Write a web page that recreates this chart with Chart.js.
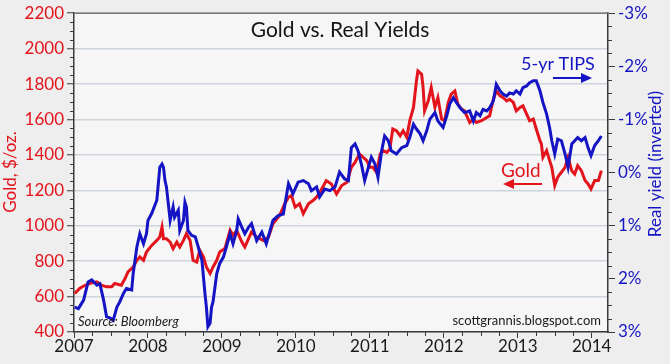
<!DOCTYPE html>
<html>
<head>
<meta charset="utf-8">
<script src="https://cdn.jsdelivr.net/npm/chart.js@4.4.1/dist/chart.umd.min.js"></script>
<style>
html, body { margin: 0; padding: 0; background: #eeeeee; }
#wrap { width: 670px; height: 364px; position: relative; }
</style>
</head>
<body>
<div id="wrap"><canvas id="chart"></canvas></div>
<script>
'use strict';

// Gold, $/oz. (left axis), dates as decimal years
const goldDates = [
    2007.01, 2007.08, 2007.15, 2007.22, 2007.31, 2007.37, 2007.44, 2007.51, 2007.55, 2007.64, 2007.69, 2007.73, 2007.80, 2007.85, 2007.89, 2007.94, 2007.98,
    2008.05, 2008.12, 2008.16, 2008.19, 2008.21, 2008.25, 2008.30, 2008.34, 2008.39, 2008.43, 2008.48, 2008.52, 2008.57, 2008.61, 2008.66, 2008.70, 2008.75, 2008.79, 2008.84, 2008.88, 2008.93, 2008.97,
    2009.04, 2009.11, 2009.15, 2009.20, 2009.27, 2009.31, 2009.36, 2009.40, 2009.47, 2009.56, 2009.63, 2009.69, 2009.78, 2009.85, 2009.90, 2009.94, 2009.99,
    2010.05, 2010.10, 2010.17, 2010.23, 2010.28, 2010.35, 2010.41, 2010.48, 2010.55, 2010.62, 2010.69, 2010.75, 2010.80, 2010.86, 2010.91, 2010.96,
    2011.00, 2011.04, 2011.09, 2011.14, 2011.18, 2011.23, 2011.27, 2011.31, 2011.36, 2011.41, 2011.45, 2011.50, 2011.54, 2011.59, 2011.63, 2011.65, 2011.70, 2011.72, 2011.74, 2011.79, 2011.83, 2011.88, 2011.92, 2011.97,
    2012.01, 2012.06, 2012.10, 2012.15, 2012.19, 2012.24, 2012.28, 2012.35, 2012.40, 2012.44, 2012.51, 2012.58, 2012.62, 2012.67, 2012.71, 2012.76, 2012.80, 2012.85, 2012.89, 2012.94, 2012.98,
    2013.03, 2013.07, 2013.12, 2013.16, 2013.21, 2013.25, 2013.30, 2013.32, 2013.34, 2013.39, 2013.41, 2013.46, 2013.50, 2013.54, 2013.59, 2013.64, 2013.68, 2013.73, 2013.77, 2013.81, 2013.86, 2013.91, 2013.95, 2013.99,
    2014.04, 2014.09, 2014.13
];
const goldValues = [
    618, 647, 664, 675, 683, 664, 655, 655, 674, 664, 702, 739, 767, 805, 824, 805, 852,
    889, 917, 936, 992, 927, 927, 908, 871, 908, 880, 917, 955, 917, 805, 795, 861, 824, 767, 730, 767, 805, 852,
    871, 974, 946, 974, 908, 880, 927, 964, 936, 917, 936, 1011, 1058, 1124, 1161, 1171, 1105,
    1124, 1068, 1124, 1142, 1161, 1208, 1255, 1236, 1180, 1227, 1245, 1330, 1358, 1405, 1386, 1367,
    1330, 1330, 1302, 1405, 1424, 1414, 1433, 1546, 1536, 1508, 1536, 1499, 1593, 1668, 1817, 1874, 1855, 1780, 1649, 1705, 1780, 1668, 1724, 1602,
    1593, 1696, 1743, 1761, 1686, 1658, 1649, 1583, 1602, 1583, 1593, 1611, 1621, 1714, 1761, 1733, 1724, 1705, 1714, 1696, 1649,
    1668, 1677, 1630, 1593, 1602, 1546, 1480, 1461, 1386, 1424, 1396, 1330, 1227, 1274, 1302, 1330, 1386, 1311, 1292, 1339, 1311, 1255, 1236, 1208,
    1255, 1255, 1311
];

// 5-yr TIPS real yield, % (right axis, inverted)
const tipsDates = [
    2007.01, 2007.06, 2007.13, 2007.19, 2007.24, 2007.31, 2007.35, 2007.40, 2007.44, 2007.49, 2007.53, 2007.58, 2007.62, 2007.67, 2007.71, 2007.78, 2007.80, 2007.85, 2007.89, 2007.94, 2007.98,
    2008.00, 2008.05, 2008.12, 2008.14, 2008.16, 2008.19, 2008.21, 2008.23, 2008.25, 2008.30, 2008.34, 2008.36, 2008.41, 2008.43, 2008.48, 2008.50, 2008.52, 2008.54, 2008.59, 2008.64, 2008.68, 2008.73, 2008.77, 2008.79, 2008.81, 2008.84, 2008.86, 2008.88, 2008.93, 2008.97,
    2009.02, 2009.06, 2009.11, 2009.15, 2009.20, 2009.22, 2009.27, 2009.31, 2009.36, 2009.40, 2009.47, 2009.54, 2009.60, 2009.69, 2009.76, 2009.83, 2009.90, 2009.96,
    2010.03, 2010.10, 2010.17, 2010.21, 2010.28, 2010.32, 2010.39, 2010.46, 2010.53, 2010.59, 2010.66, 2010.71, 2010.75, 2010.80, 2010.84, 2010.89, 2010.93, 2010.98,
    2011.02, 2011.07, 2011.11, 2011.16, 2011.20, 2011.25, 2011.29, 2011.36, 2011.43, 2011.50, 2011.54, 2011.59, 2011.63, 2011.68, 2011.72, 2011.77, 2011.81, 2011.88, 2011.92, 2011.99,
    2012.04, 2012.08, 2012.13, 2012.17, 2012.22, 2012.28, 2012.35, 2012.40, 2012.44, 2012.49, 2012.53, 2012.58, 2012.62, 2012.67, 2012.71, 2012.76, 2012.80, 2012.85, 2012.89, 2012.94, 2012.98,
    2013.03, 2013.07, 2013.12, 2013.16, 2013.21, 2013.25, 2013.30, 2013.34, 2013.39, 2013.43, 2013.46, 2013.50, 2013.54, 2013.59, 2013.64, 2013.68, 2013.73, 2013.77, 2013.81, 2013.86, 2013.91, 2013.95, 2013.99,
    2014.04, 2014.09, 2014.13
];
const tipsValues = [
    2.53, 2.56, 2.40, 2.06, 2.02, 2.12, 2.09, 2.40, 2.71, 2.74, 2.78, 2.53, 2.43, 2.27, 2.18, 2.21, 1.90, 1.40, 1.15, 1.34, 1.15,
    0.90, 0.77, 0.52, 0.21, -0.10, -0.16, -0.10, 0.15, 0.27, 0.90, 0.65, 0.84, 0.71, 1.09, 0.90, 0.56, 0.65, 1.09, 1.18, 1.21, 1.40, 1.65, 2.27, 2.53, 2.90, 2.83, 2.53, 2.43, 1.90, 1.71,
    1.59, 1.40, 1.15, 1.34, 1.09, 0.87, 1.03, 1.15, 1.03, 0.96, 1.28, 1.12, 1.34, 0.90, 0.81, 0.78, 0.21, 0.40,
    0.18, 0.15, 0.21, 0.34, 0.27, 0.46, 0.31, 0.34, 0.27, -0.01, 0.12, 0.15, -0.47, -0.54, -0.41, -0.13, 0.15, -0.10,
    -0.29, -0.16, 0.09, -0.41, -0.69, -0.60, -0.41, -0.35, -0.47, -0.51, -0.66, -0.91, -0.82, -0.73, -0.60, -0.79, -1.00, -1.13, -0.97, -0.85,
    -1.07, -1.29, -1.41, -1.32, -1.22, -1.13, -1.16, -0.97, -1.13, -1.07, -1.19, -1.16, -1.22, -1.35, -1.66, -1.54, -1.48, -1.44, -1.50, -1.48, -1.54,
    -1.48, -1.60, -1.63, -1.69, -1.73, -1.73, -1.54, -1.32, -1.10, -0.85, -0.60, -0.35, -0.63, -0.60, -0.35, -0.10, -0.54, -0.60, -0.66, -0.60, -0.66, -0.47, -0.32,
    -0.51, -0.60, -0.69
];

const yearTicks = [2007, 2008, 2009, 2010, 2011, 2012, 2013, 2014];
const goldTicks = [400, 600, 800, 1000, 1200, 1400, 1600, 1800, 2000, 2200];
const yieldTicks = [-3, -2, -1, 0, 1, 2, 3];

const RED = '#e3141c';
const BLUE = '#1414c4';
const AXIS = '#3a3a3a';
const FONT = 'Lato, "Open Sans", sans-serif';

function pairs(xs, ys) {
    return xs.map((x, i) => ({ x: x, y: ys[i] }));
}

function arrow(ctx, x1, x2, y, color) {
    const dir = x2 > x1 ? 1 : -1;
    ctx.strokeStyle = color;
    ctx.fillStyle = color;
    ctx.lineWidth = 2;
    ctx.beginPath();
    ctx.moveTo(x1, y);
    ctx.lineTo(x2 - dir * 8, y);
    ctx.stroke();
    ctx.beginPath();
    ctx.moveTo(x2, y);
    ctx.lineTo(x2 - dir * 11, y - 5);
    ctx.lineTo(x2 - dir * 11, y + 5);
    ctx.closePath();
    ctx.fill();
}

const decor = {
    id: 'decor',
    beforeDraw(chart) {
        const ctx = chart.ctx;
        const a = chart.chartArea;
        ctx.save();
        ctx.fillStyle = '#eeeeee';
        ctx.fillRect(0, 0, chart.width, chart.height);
        ctx.fillStyle = '#f6f6f6';
        ctx.fillRect(a.left, a.top, a.right - a.left, a.bottom - a.top);
        ctx.restore();
    },
    afterDraw(chart) {
        const ctx = chart.ctx;
        const a = chart.chartArea;
        const sx = chart.scales.x, sy = chart.scales.y, sy2 = chart.scales.y2;
        ctx.save();

        // top frame line
        ctx.strokeStyle = '#777';
        ctx.lineWidth = 1.5;
        ctx.beginPath();
        ctx.moveTo(a.left, a.top);
        ctx.lineTo(a.right, a.top);
        ctx.stroke();

        // minor ticks
        ctx.strokeStyle = AXIS;
        ctx.lineWidth = 1;
        ctx.beginPath();
        for (let v = 450; v < 2200; v += 50) {
            if (v % 200 === 0) continue;
            const y = Math.round(sy.getPixelForValue(v)) + 0.5;
            ctx.moveTo(a.left - 4, y);
            ctx.lineTo(a.left, y);
        }
        for (let v = -2.75; v < 3; v += 0.25) {
            if (Math.abs(v - Math.round(v)) < 0.01) continue;
            const y = Math.round(sy2.getPixelForValue(v)) + 0.5;
            ctx.moveTo(a.right, y);
            ctx.lineTo(a.right + 4, y);
        }
        for (let v = 2007.25; v < sx.max; v += 0.25) {
            if (Math.abs(v - Math.round(v)) < 0.01) continue;
            const x = Math.round(sx.getPixelForValue(v)) + 0.5;
            ctx.moveTo(x, a.bottom);
            ctx.lineTo(x, a.bottom + 4);
        }
        ctx.stroke();

        // axis titles
        ctx.textAlign = 'center';
        ctx.textBaseline = 'middle';
        ctx.font = '17px ' + FONT;
        ctx.fillStyle = RED;
        ctx.save();
        ctx.translate(11, 172);
        ctx.rotate(-Math.PI / 2);
        ctx.fillText('Gold, $/oz.', 0, 0);
        ctx.restore();
        ctx.fillStyle = BLUE;
        ctx.save();
        ctx.translate(656, 164);
        ctx.rotate(-Math.PI / 2);
        ctx.fillText('Real yield (inverted)', 0, 0);
        ctx.restore();

        // title
        ctx.fillStyle = '#151515';
        ctx.font = '21px ' + FONT;
        ctx.fillText('Gold vs. Real Yields', 340, 30);

        // series notes
        ctx.textAlign = 'left';
        ctx.textBaseline = 'alphabetic';
        ctx.fillStyle = BLUE;
        ctx.font = '18px ' + FONT;
        ctx.fillText('5-yr TIPS', 521, 70);
        arrow(ctx, 553, 592, 78, BLUE);
        ctx.fillStyle = RED;
        ctx.font = '19px ' + FONT;
        ctx.fillText('Gold', 501, 177);
        arrow(ctx, 542, 503, 184, RED);

        // source and credit
        ctx.fillStyle = '#1a1a1a';
        ctx.font = 'italic 13px ' + FONT;
        ctx.fillText('Source: Bloomberg', 78, 326);
        ctx.textAlign = 'right';
        ctx.font = '13px ' + FONT;
        ctx.fillText('scottgrannis.blogspot.com', 601, 325);

        ctx.restore();
    }
};

new Chart(document.getElementById('chart'), {
    type: 'line',
    data: {
        datasets: [
            {
                label: 'Gold',
                data: pairs(goldDates, goldValues),
                yAxisID: 'y',
                borderColor: RED,
                borderWidth: 3,
                pointRadius: 0,
                tension: 0,
                order: 2
            },
            {
                label: '5-yr TIPS',
                data: pairs(tipsDates, tipsValues),
                yAxisID: 'y2',
                borderColor: BLUE,
                borderWidth: 3,
                pointRadius: 0,
                tension: 0,
                order: 1
            }
        ]
    },
    options: {
        responsive: true,
        maintainAspectRatio: false,
        animation: false,
        layout: { padding: { top: 12, left: 0, right: 0, bottom: 0 } },
        plugins: {
            legend: { display: false },
            tooltip: { enabled: false }
        },
        scales: {
            x: {
                type: 'linear',
                min: 2007,
                max: 2014.22,
                afterBuildTicks: s => { s.ticks = yearTicks.map(v => ({ value: v })); },
                afterFit: s => { s.height = 32; },
                ticks: {
                    color: '#1a1a1a',
                    font: { family: FONT, size: 17 },
                    padding: -2,
                    maxRotation: 0,
                    autoSkip: false,
                    callback: v => String(v)
                },
                grid: { drawOnChartArea: false, tickLength: 6, tickColor: AXIS, tickWidth: 1 },
                border: { color: AXIS, width: 1.5 }
            },
            y: {
                position: 'left',
                min: 400,
                max: 2200,
                afterBuildTicks: s => { s.ticks = goldTicks.map(v => ({ value: v })); },
                afterFit: s => { s.width = 74; },
                ticks: {
                    color: RED,
                    font: { family: FONT, size: 17 },
                    padding: 3,
                    callback: v => String(v)
                },
                grid: { color: '#cdd4db', lineWidth: 1.5, tickLength: 7, tickColor: AXIS, tickWidth: 1 },
                border: { color: AXIS, width: 1.5 }
            },
            y2: {
                position: 'right',
                min: -3,
                max: 3,
                reverse: true,
                afterBuildTicks: s => { s.ticks = yieldTicks.map(v => ({ value: v })); },
                afterFit: s => { s.width = 62; },
                ticks: {
                    color: BLUE,
                    font: { family: FONT, size: 17 },
                    padding: 3,
                    callback: v => v + '%'
                },
                grid: { drawOnChartArea: false, tickLength: 7, tickColor: AXIS, tickWidth: 1 },
                border: { color: AXIS, width: 1.5 }
            }
        }
    },
    plugins: [decor]
});
</script>
</body>
</html>
